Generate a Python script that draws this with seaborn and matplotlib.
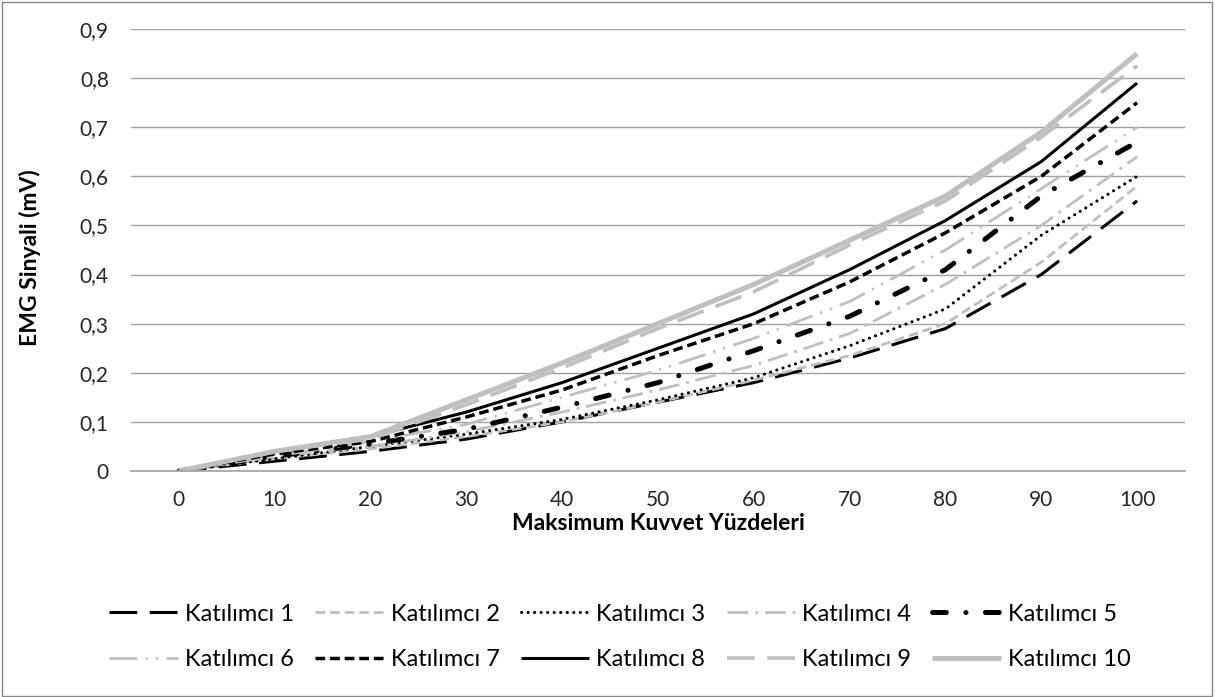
import matplotlib
matplotlib.use("Agg")
import matplotlib.pyplot as plt
from matplotlib.patches import Rectangle
import numpy as np
import pandas as pd
import seaborn as sns

# ---- data ----
x_values = [0, 10, 20, 30, 40, 50, 60, 70, 80, 90, 100]
series_names = ["Katılımcı 1", "Katılımcı 2", "Katılımcı 3", "Katılımcı 4", "Katılımcı 5",
                "Katılımcı 6", "Katılımcı 7", "Katılımcı 8", "Katılımcı 9", "Katılımcı 10"]
k1 = [0, 0.020, 0.040, 0.065, 0.100, 0.140, 0.180, 0.230, 0.290, 0.400, 0.550]
k2 = [0, 0.025, 0.045, 0.070, 0.100, 0.140, 0.185, 0.235, 0.300, 0.425, 0.580]
k3 = [0, 0.025, 0.050, 0.075, 0.105, 0.145, 0.190, 0.255, 0.330, 0.480, 0.600]
k4 = [0, 0.030, 0.050, 0.080, 0.120, 0.165, 0.215, 0.280, 0.380, 0.500, 0.640]
k5 = [0, 0.030, 0.055, 0.085, 0.130, 0.180, 0.245, 0.315, 0.410, 0.560, 0.670]
k6 = [0, 0.030, 0.060, 0.095, 0.150, 0.205, 0.270, 0.345, 0.450, 0.575, 0.700]
k7 = [0, 0.035, 0.060, 0.110, 0.165, 0.235, 0.300, 0.385, 0.485, 0.600, 0.750]
k8 = [0, 0.040, 0.070, 0.120, 0.180, 0.250, 0.320, 0.410, 0.510, 0.630, 0.790]
k9 = [0, 0.040, 0.065, 0.135, 0.210, 0.290, 0.365, 0.460, 0.550, 0.680, 0.825]
k10 = [0, 0.040, 0.070, 0.145, 0.220, 0.300, 0.380, 0.470, 0.560, 0.690, 0.850]
y_tick_values = [0, 0.1, 0.2, 0.3, 0.4, 0.5, 0.6, 0.7, 0.8, 0.9]
y_tick_labels = ["0", "0,1", "0,2", "0,3", "0,4", "0,5", "0,6", "0,7", "0,8", "0,9"]
x_label = "Maksimum Kuvvet Yüzdeleri"
y_label = "EMG Sinyali (mV)"

all_series = [k1, k2, k3, k4, k5, k6, k7, k8, k9, k10]
df = pd.DataFrame(
    [(name, xv, yv) for name, ys in zip(series_names, all_series) for xv, yv in zip(x_values, ys)],
    columns=["series", "x", "y"],
)

# ---- style ----
sns.set_theme(style="white")
plt.rcParams["font.family"] = ["Lato", "DejaVu Sans"]
plt.rcParams["lines.scale_dashes"] = False

GRAY = "#BFBFBF"
styles = [
    dict(color="black", lw=2.2, dashes=(20, 9), cap="butt"),
    dict(color=GRAY, lw=2.0, dashes=(7, 3.5), cap="butt"),
    dict(color="black", lw=2.2, dashes=(0.1, 4.6), cap="round"),
    dict(color=GRAY, lw=2.0, dashes=(15, 5, 2, 5), cap="butt"),
    dict(color="black", lw=3.6, dashes=(10, 14, 0.1, 14), cap="round"),
    dict(color=GRAY, lw=2.0, dashes=(20, 6, 1.5, 6, 1.5, 6), cap="butt"),
    dict(color="black", lw=2.5, dashes=(7, 3.5), cap="butt"),
    dict(color="black", lw=2.2, dashes=None, cap="butt"),
    dict(color=GRAY, lw=2.6, dashes=(20, 9), cap="butt"),
    dict(color=GRAY, lw=3.6, dashes=None, cap="butt"),
]

W, H = 1215, 697
fig = plt.figure(figsize=(W / 100, H / 100), dpi=100)
fig.patch.set_facecolor("white")
ax = fig.add_axes([131 / W, 1 - 471 / H, (1185 - 131) / W, (471 - 29) / H])

handles = []
for name, st in zip(series_names, styles):
    sub = df[df["series"] == name]
    sns.lineplot(data=sub, x="x", y="y", ax=ax, color=st["color"], linewidth=st["lw"],
                 label=name, legend=False)
    line = ax.lines[-1]
    if st["dashes"] is not None:
        line.set_dashes(st["dashes"])
    line.set_dash_capstyle(st["cap"])
    line.set_solid_capstyle("butt")
    line.set_solid_joinstyle("round")
    line.set_dash_joinstyle("round")
    handles.append(line)

ax.set_xlim(-5, 105)
ax.set_ylim(0, 0.9)
ax.set_xticks(x_values)
ax.set_xticklabels([str(v) for v in x_values])
ax.set_yticks(y_tick_values)
ax.set_yticklabels(y_tick_labels)
ax.tick_params(axis="both", length=0, labelsize=15, colors="#262626")
ax.tick_params(axis="y", pad=16)
ax.tick_params(axis="x", pad=14)
ax.yaxis.grid(True, color="#A0A0A0", linewidth=1.0)
ax.xaxis.grid(False)
ax.set_axisbelow(True)
for s in ["left", "right", "top"]:
    ax.spines[s].set_visible(False)
ax.spines["bottom"].set_color("#A0A0A0")
ax.spines["bottom"].set_linewidth(1.2)
ax.set_xlabel("")
ax.set_ylabel("")

fig.text(658 / W, 1 - 524 / H, x_label, ha="center", va="center", fontsize=16.5,
         fontweight="bold", color="black")
fig.text(30 / W, 1 - 258 / H, y_label, ha="center", va="center", fontsize=16.5,
         fontweight="bold", rotation=90, color="black")

order = [0, 5, 1, 6, 2, 7, 3, 8, 4, 9]
leg = fig.legend([handles[i] for i in order], [series_names[i] for i in order],
                 ncol=5, loc="center", bbox_to_anchor=(620 / W, 1 - 637 / H),
                 frameon=False, fontsize=17, handlelength=2.9, handletextpad=0.3,
                 columnspacing=0.9, labelspacing=1.05)
for t in leg.get_texts():
    t.set_color("black")

fig.patches.append(Rectangle((2 / W, 1 / H), (W - 5) / W, (H - 3) / H, transform=fig.transFigure,
                             fill=False, edgecolor="#868686", linewidth=1.0))

fig.savefig("out.png", dpi=100)
